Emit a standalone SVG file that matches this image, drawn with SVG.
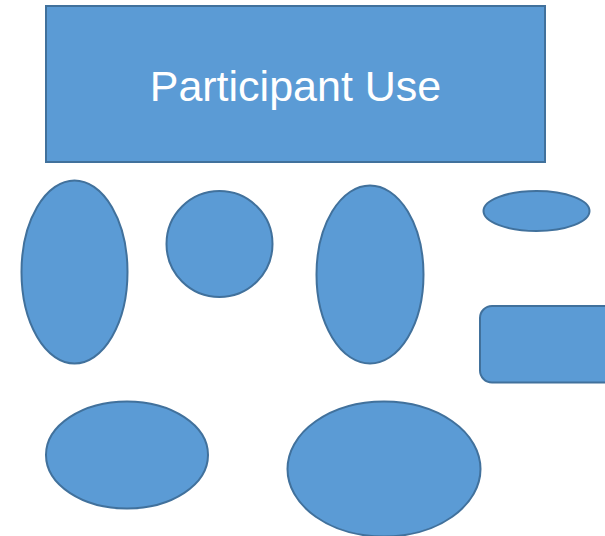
<svg xmlns="http://www.w3.org/2000/svg" width="605" height="536" viewBox="0 0 605 536">
<style>
.s{fill:#5B9BD5;stroke:#41719C;stroke-width:2}
.t{fill:#FFFFFF;font-family:"Liberation Sans",Arial,sans-serif;font-size:43px;text-anchor:middle}
</style>
<rect width="605" height="536" fill="#FFFFFF"/>
<g id="title"><rect class="s" x="46" y="6" width="499" height="156"/><text class="t" x="295.5" y="101">Participant Use</text></g>
<g id="ellipse1"><ellipse class="s" cx="74.5" cy="272" rx="53" ry="91.5"/></g>
<g id="circle1"><circle class="s" cx="219.5" cy="244" r="53"/></g>
<g id="ellipse2"><ellipse class="s" cx="370" cy="274.5" rx="53.5" ry="89"/></g>
<g id="ellipse3"><ellipse class="s" cx="536.5" cy="211" rx="53" ry="20"/></g>
<g id="roundrect"><rect class="s" x="480" y="306" width="140" height="76.5" rx="12"/></g>
<g id="ellipse4"><ellipse class="s" cx="127" cy="455" rx="81" ry="53.5"/></g>
<g id="ellipse5"><ellipse class="s" cx="384" cy="469" rx="96.5" ry="67.5"/></g>
<g id="connectors"></g>
</svg>
